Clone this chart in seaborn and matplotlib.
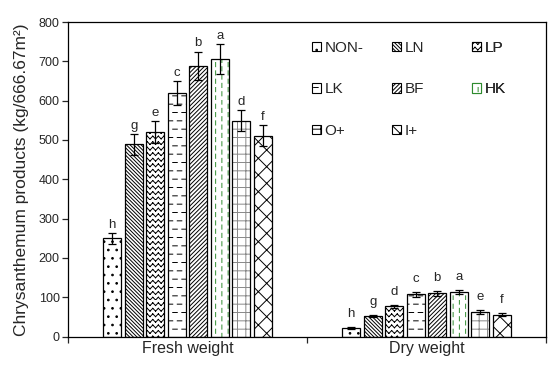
import warnings
import numpy as np
import pandas as pd
import matplotlib
matplotlib.use('Agg')
import matplotlib.pyplot as plt
import matplotlib.hatch as mhatch
from matplotlib.path import Path
from matplotlib.patches import Patch, Rectangle
import seaborn as sns

warnings.filterwarnings('ignore')

# data
treatments = ['NON-', 'LN', 'LP', 'LK', 'BF', 'HK', 'O+', 'I+']
groups = ['Fresh weight', 'Dry weight']
fresh_mean = [250, 489, 521, 619, 689, 706, 549, 511]
fresh_err = [14, 26, 28, 31, 36, 37, 26, 26]
fresh_sig = ['h', 'g', 'e', 'c', 'b', 'a', 'd', 'f']
dry_mean = [22, 52, 77, 107, 110, 113, 63, 56]
dry_err = [3, 3, 4, 6, 7, 6, 5, 3]
dry_sig = ['h', 'g', 'd', 'c', 'b', 'a', 'e', 'f']
yticks = [0, 100, 200, 300, 400, 500, 600, 700, 800]

# fill patterns: z = zigzag, h = horizontal dashes, k = vertical dashes (custom ones)
hatches = ['..', '\\' * 9, 'zzz', 'hh', '/' * 8, 'kk', '++', 'xx']
hatch_colors = ['black', 'black', 'black', 'black', 'black', '#2e8b2e', '#888888', 'black']


class ZigZag(mhatch.HatchPatternBase):
    # open segments only, Agg also fills the hatch path
    def __init__(self, hatch, density):
        self.num_rows = hatch.count('z') * 6
        self.num_teeth = self.num_rows
        self.num_vertices = self.num_rows * self.num_teeth * 2 * 2

    def set_vertices_and_codes(self, vertices, codes):
        step = 1.0 / self.num_rows
        tw = 1.0 / self.num_teeth
        k = 0
        for r in range(self.num_rows):
            y0 = r * step
            y1 = y0 + 0.5 * step
            for t in range(self.num_teeth):
                x0 = t * tw
                for p, q in (((x0, y0), (x0 + tw / 2, y1)), ((x0 + tw / 2, y1), (x0 + tw, y0))):
                    vertices[k] = p
                    vertices[k + 1] = q
                    codes[k] = Path.MOVETO
                    codes[k + 1] = Path.LINETO
                    k += 2


class Dashes(mhatch.HatchPatternBase):
    def __init__(self, hatch, density):
        self.vertical = 'k' in hatch
        if self.vertical:
            self.num_rows = hatch.count('k') * 8
            self.per_row = 12
        else:
            self.num_rows = hatch.count('h') * 6
            self.per_row = 11
        self.num_vertices = self.num_rows * self.per_row * 2

    def set_vertices_and_codes(self, vertices, codes):
        step = 1.0 / self.num_rows
        seg = 1.0 / self.per_row
        k = 0
        for r in range(self.num_rows):
            a = (r + 0.5) * step
            shift = 0.5 * seg * (r % 2)
            for d in range(self.per_row):
                b0 = (d * seg + shift) % 1.0
                b1 = b0 + seg * 0.5
                if self.vertical:
                    vertices[k] = (a, b0)
                    vertices[k + 1] = (a, b1)
                else:
                    vertices[k] = (b0, a)
                    vertices[k + 1] = (b1, a)
                codes[k] = Path.MOVETO
                codes[k + 1] = Path.LINETO
                k += 2


mhatch._hatch_types.extend([ZigZag, Dashes])

sns.set_style('ticks')
plt.rcParams['font.family'] = ['Liberation Sans', 'DejaVu Sans']
plt.rcParams['hatch.linewidth'] = 0.7
plt.rcParams['axes.linewidth'] = 0.9

df = pd.DataFrame({
    'group': np.repeat(groups, len(treatments)),
    'treatment': treatments * 2,
    'value': fresh_mean + dry_mean,
    'err': fresh_err + dry_err,
    'sig': fresh_sig + dry_sig,
})

fig, ax = plt.subplots(figsize=(5.5, 3.67), dpi=100)
fig.subplots_adjust(left=0.1236, right=0.9927, top=0.94, bottom=0.083)

sns.barplot(data=df, x='group', y='value', hue='treatment', hue_order=treatments,
            palette={t: 'white' for t in treatments}, edgecolor='black', linewidth=0.9,
            width=0.72, gap=0.15, errorbar=None, legend=False, ax=ax)

bar_conts = list(ax.containers)
for i, cont in enumerate(bar_conts):
    sub = df[df['treatment'] == treatments[i]]
    for bar, (_, row) in zip(cont, sub.iterrows()):
        bar.set_hatch(hatches[i])
        bar.set_edgecolor(hatch_colors[i])
        bar.set_linewidth(0)
        ax.add_patch(Rectangle(bar.get_xy(), bar.get_width(), bar.get_height(), fill=False,
                               ec='black', lw=0.9, zorder=bar.get_zorder() + 0.1))
        xc = bar.get_x() + bar.get_width() / 2
        ax.errorbar(xc, row['value'], yerr=row['err'], color='black', capsize=3,
                    elinewidth=0.9, capthick=0.9, zorder=5)
        off = 1.5 if row['group'] == groups[0] else 5
        ax.annotate(row['sig'], (xc, row['value'] + row['err']), xytext=(0, off),
                    textcoords='offset points', ha='center', va='bottom', fontsize=9.5)

ax.set_ylim(0, 800)
ax.set_yticks(yticks)
ax.set_xlim(-0.5, 1.5)
ax.set_xticks([-0.5, 0.5, 1.5])
ax.set_xticklabels([])
ax.set_xticks([0, 1], minor=True)
ax.set_xticklabels(groups, minor=True)
ax.tick_params(axis='x', which='minor', length=0, labelsize=11.5, pad=3.5)
ax.tick_params(axis='x', which='major', length=4, width=0.9, direction='out')
ax.tick_params(axis='y', length=4, width=0.9, labelsize=9, pad=2)
ax.set_xlabel('')
ax.set_ylabel('Chrysanthemum products (kg/666.67m²)', fontsize=12.5, labelpad=7)
for s in ax.spines.values():
    s.set_visible(True)
    s.set_color('black')

# legend in three columns, one legend per column
cols = [[0, 3, 6], [1, 4, 7], [2, 5]]
xs = [0.51, 0.678, 0.845]
for c, x in zip(cols, xs):
    handles = [Patch(facecolor='white', edgecolor=hatch_colors[i] if i == 5 else 'black',
                     hatch=hatches[i], linewidth=0.8, label=treatments[i]) for i in c]
    leg = ax.legend(handles=handles, loc='upper left', bbox_to_anchor=(x, 0.94),
                    frameon=False, fontsize=11, handlelength=0.6, handleheight=0.6,
                    handletextpad=0.25, labelspacing=1.8, borderpad=0, borderaxespad=0)
    ax.add_artist(leg)

fig.savefig('out.png', dpi=100)
